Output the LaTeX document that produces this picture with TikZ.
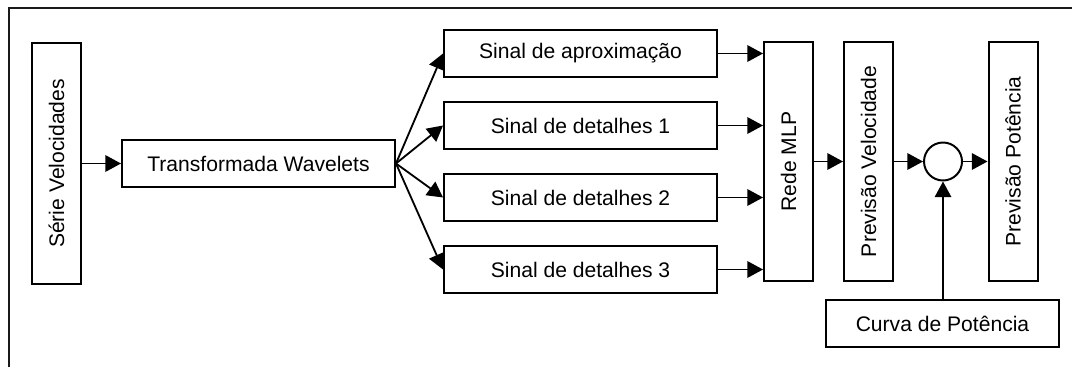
\documentclass[tikz,border=0pt]{standalone}
\usepackage{fontspec}
\setmainfont{Liberation Sans}
\usepackage{tikz}
\usepackage{xcolor}
\usetikzlibrary{arrows.meta,positioning,shapes.geometric}
\definecolor{ink}{HTML}{000000}
\definecolor{frame}{HTML}{1A1A1A}
\tikzset{
  block/.style={draw=ink, fill=white, line width=1.4pt, align=center, inner sep=2pt,
                font=\fontsize{15}{18}\selectfont, minimum width=6.825cm, minimum height=1.175cm},
  vblock/.style={block, rotate=90, minimum width=5.975cm, minimum height=1.225cm},
  arrow/.style={-{Triangle[length=3.9mm,width=4.1mm]}, line width=1.3pt, draw=ink},
  junction/.style={circle, draw=ink, fill=white, line width=1.4pt, minimum size=0.95cm, inner sep=0pt}
}

\begin{document}
\begin{tikzpicture}[x=1cm,y=1cm]
        \useasboundingbox (0,0) rectangle (26.8,9.175);
        % open frame (top and left)
        \draw[draw=frame,line width=1.2pt] (0.225,0) -- (0.225,8.975) -- (26.8,8.975);

        % input and decomposition
        \node[vblock,minimum width=6.025cm] (serie) at (1.4125,5.0875) {Série Velocidades};
        \node[block] (wav) at (6.4625,5.0875) {Transformada Wavelets};
        \draw[arrow] (serie.south) -- (wav.west);

        % signal branches
        \node[block] (approx) at (14.5125,7.8375) {Sinal de aproxima\c{c}\~ao};
        \node[block] (det1) at (14.5125,6.0375) {Sinal de detalhes 1};
        \node[block] (det2) at (14.5125,4.2375) {Sinal de detalhes 2};
        \node[block] (det3) at (14.5125,2.4375) {Sinal de detalhes 3};

        % network and forecasts
        \node[vblock] (mlp) at (19.7125,5.1375) {Rede MLP};
        \node[vblock] (vel) at (21.7125,5.1375) {Previsão Velocidade};
        \node[junction] (circ) at (23.575,5.1375) {};
        \node[vblock] (pot) at (25.325,5.1375) {Previsão Potência};
        \node[block,minimum width=5.825cm] (curva) at (23.5625,1.0875) {Curva de Potência};

        \foreach \s in {approx,det1,det2,det3} {
          \draw[arrow] (wav.east) -- (\s.west);
          \draw[arrow] (\s.east) -- (\s.east -| mlp.north);
        }
        \draw[arrow] (mlp.south) -- (vel.north);
        \draw[arrow] (vel.south) -- (circ.west);
        \draw[arrow] (circ.east) -- (pot.north);
        \draw[arrow] (curva.north -| circ.south) -- (circ.south);
      \end{tikzpicture}
\end{document}
